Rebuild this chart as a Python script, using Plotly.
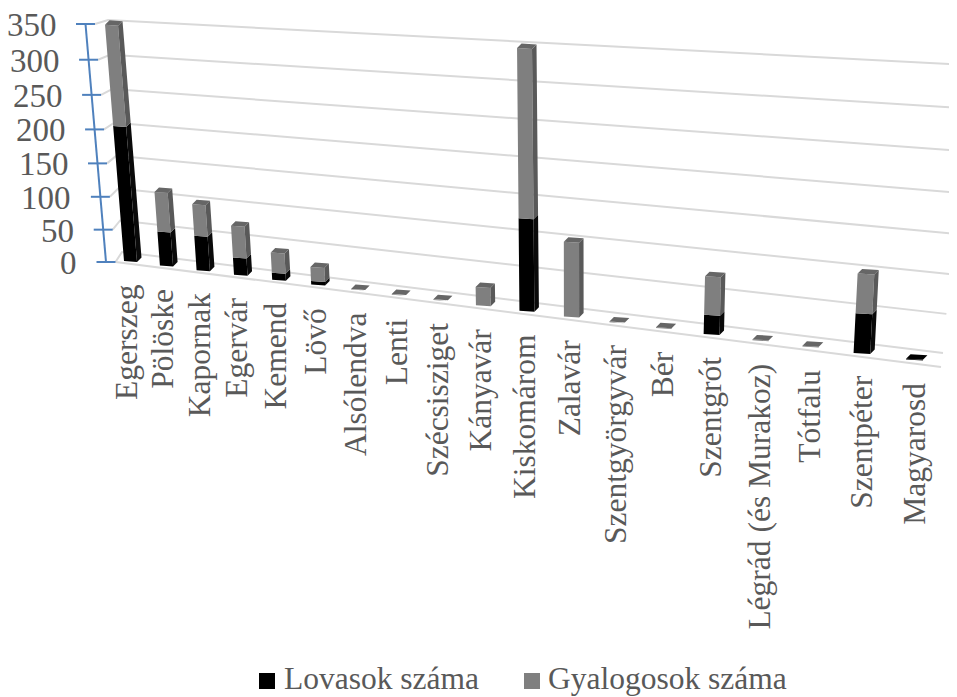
import plotly.graph_objects as go

categories = ["Egerszeg", "Pölöske", "Kapornak", "Egervár", "Kemend", "Lövő", "Alsólendva", "Lenti",
              "Szécsisziget", "Kányavár", "Kiskomárom", "Zalavár", "Szentgyörgyvár", "Bér", "Szentgrót",
              "Légrád (és Murakoz)", "Tótfalu", "Szentpéter", "Magyarosd"]
lovasok = [200, 50, 50, 25, 10, 5, 0, 0, 0, 0, 125, 0, 0, 0, 25, 0, 0, 50, 1]
gyalogosok = [150, 58, 46, 46, 29, 20, 1, 1, 1, 25, 230, 100, 1, 1, 50, 1, 1, 50, 0]
axis_ticks = [0, 50, 100, 150, 200, 250, 300, 350]

GRID = "#D9D9D9"
AXIS = "#4F81BD"
TEXT = "#595959"
SERIF = "Liberation Serif"
N = len(categories)


def bend(v):
    u = v / 350
    return u / (1 + 0.06 * (1 - u))


def slot_x(i):
    t = i / (N - 1)
    return 124 + 782 * t / (t + 1.222 * (1 - t))


def floor_y(x):
    return 261 + (x - 124) * 0.126


def bar_scale(x):
    return 0.675 + (x - 124) * 0.000165


def lean(x, h):
    return (x - 570) * 0.00018 * h


def corners(i, v):
    x = slot_x(i)
    w = 13 + 0.005 * (x - 124)
    h = v * bar_scale(x)
    xl = x + lean(x, h)
    y = floor_y(x) - h
    return xl, xl + w, y, y + 1


def add_poly(store, pts):
    store[0].extend([p[0] for p in pts] + [pts[0][0], None])
    store[1].extend([p[1] for p in pts] + [pts[0][1], None])


DX, DY = 4.5, -4.5
faces = {k: ([], []) for k in ["lf", "ls", "lt", "gf", "gs", "gt"]}
for i in range(N):
    a, b = lovasok[i], gyalogosok[i]
    l0 = corners(i, 0)
    l1 = corners(i, a)
    l2 = corners(i, a + b)
    if a > 0:
        add_poly(faces["lf"], [(l0[0], l0[2]), (l0[1], l0[3]), (l1[1], l1[3]), (l1[0], l1[2])])
        add_poly(faces["ls"], [(l0[1], l0[3]), (l0[1] + DX, l0[3] + DY), (l1[1] + DX, l1[3] + DY), (l1[1], l1[3])])
    if b > 0:
        add_poly(faces["gf"], [(l1[0], l1[2]), (l1[1], l1[3]), (l2[1], l2[3]), (l2[0], l2[2])])
        add_poly(faces["gs"], [(l1[1], l1[3]), (l1[1] + DX, l1[3] + DY), (l2[1] + DX, l2[3] + DY), (l2[1], l2[3])])
    key = "gt" if b > 0 else "lt"
    add_poly(faces[key], [(l2[0], l2[2]), (l2[1], l2[3]), (l2[1] + DX, l2[3] + DY), (l2[0] + DX, l2[2] + DY)])

fig = go.Figure()

for v in axis_ticks:
    f = bend(v)
    ax, ay = 106 - 20.5 * f, 262 - 238 * f
    lx, ly = 122 - 14 * f, 252 - 232 * f
    rx, ry = 943 + 25 * f, 353 - 288 * f
    fig.add_trace(go.Scatter(x=[ax + 9.5, lx, rx], y=[ay, ly, ry], mode="lines",
                             line=dict(color=GRID, width=2), showlegend=False, hoverinfo="skip"))
fig.add_trace(go.Scatter(x=[115.5, 941], y=[262, 367], mode="lines",
                         line=dict(color=GRID, width=2), showlegend=False, hoverinfo="skip"))

ax_x = [106 - 20.5 * bend(v) for v in axis_ticks]
ax_y = [262 - 238 * bend(v) for v in axis_ticks]
fig.add_trace(go.Scatter(x=ax_x, y=ax_y, mode="lines", line=dict(color=AXIS, width=2),
                         showlegend=False, hoverinfo="skip"))
for x, y, v in zip(ax_x, ax_y, axis_ticks):
    fig.add_trace(go.Scatter(x=[x - 9.5, x + 9.5], y=[y, y], mode="lines", line=dict(color=AXIS, width=2),
                             showlegend=False, hoverinfo="skip"))
    fig.add_annotation(x=x - 27, y=y + 1, text=str(v), showarrow=False, xanchor="right", yanchor="middle",
                       font=dict(family=SERIF, size=33, color=TEXT))

colors = {"lf": "#000000", "ls": "#0A0A0A", "lt": "#000000", "gf": "#7F7F7F", "gs": "#595959", "gt": "#666666"}
for k, (xs, ys) in faces.items():
    fig.add_trace(go.Scatter(x=xs, y=ys, mode="lines", fill="toself", fillcolor=colors[k],
                             line=dict(width=0, color=colors[k]), showlegend=False, hoverinfo="skip"))

for i, name in enumerate(categories):
    x = slot_x(i)
    fig.add_annotation(x=x + 2 + 0.008 * (x - 124), y=floor_y(x) + 21, text=name, textangle=-90, showarrow=False,
                       xanchor="center", yanchor="top", font=dict(family=SERIF, size=31.5, color=TEXT))

for name, col, mx, tx in [("Lovasok száma", "#000000", 267, 282), ("Gyalogosok száma", "#7F7F7F", 532, 546)]:
    fig.add_trace(go.Scatter(x=[mx], y=[681], mode="markers", name=name, showlegend=False, hoverinfo="skip",
                             marker=dict(symbol="square", size=16, color=col)))
    fig.add_annotation(x=tx, y=678, text=name, showarrow=False, xanchor="left", yanchor="middle",
                       font=dict(family=SERIF, size=31.5, color=TEXT))

fig.update_layout(
    width=949, height=689, margin=dict(l=0, r=0, t=0, b=0),
    paper_bgcolor="white", plot_bgcolor="white",
    xaxis=dict(range=[8, 957], visible=False, fixedrange=True),
    yaxis=dict(range=[697, 8], visible=False, fixedrange=True),
)
fig.write_html("out.html")
